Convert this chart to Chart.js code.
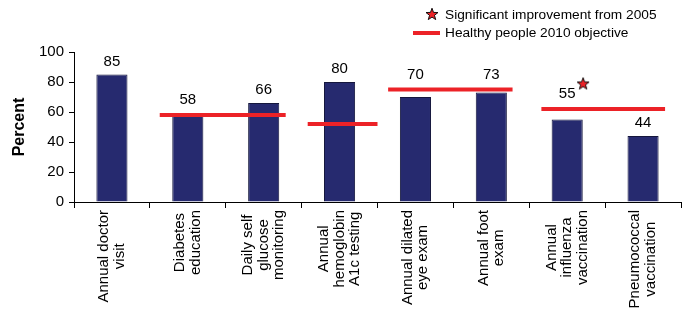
<!DOCTYPE html>
<html lang="en">
<head>
  <meta charset="UTF-8">
  <title>Diabetes care</title>
  <script src="https://cdn.jsdelivr.net/npm/chart.js"></script>
  <style>
    body { margin: 0; background: #fff; }
    #wrap { width: 686px; height: 312px; }
  </style>
</head>
<body>
  <div id="wrap"><canvas id="careChart"></canvas></div>

  <script>
    const categories = [
      ['Annual doctor', 'visit'],
      ['Diabetes', 'education'],
      ['Daily self', 'glucose', 'monitoring'],
      ['Annual', 'hemoglobin', 'A1c testing'],
      ['Annual dilated', 'eye exam'],
      ['Annual foot', 'exam'],
      ['Annual', 'influenza', 'vaccination'],
      ['Pneumococcal', 'vaccination']
    ];
    const percents = [85, 58, 66, 80, 70, 73, 55, 44];
    const yTicks = [0, 20, 40, 60, 80, 100];

    // Healthy people 2010 objectives, x in category-index units
    const objectiveFrom = [0.63, 2.58, 3.64, 5.66];
    const objectiveTo = [2.29, 3.5, 5.28, 7.29];
    const objectiveValue = [58, 52, 75, 62];

    // significant improvement marker
    const starX = [6.21];
    const starY = [79];

    const legendLabels = ['Significant improvement from 2005', 'Healthy people 2010 objective'];

    const navy = '#262a6f';
    const red = '#ec2227';
    const font = 'Arial, "Liberation Sans", sans-serif';

    function starPath(ctx, cx, cy, outer, inner) {
      ctx.beginPath();
      for (let i = 0; i < 10; i++) {
        const r = i % 2 ? inner : outer;
        const a = -Math.PI / 2 + i * Math.PI / 5;
        ctx.lineTo(cx + r * Math.cos(a), cy + r * Math.sin(a));
      }
      ctx.closePath();
    }

    const starImg = document.createElement('canvas');
    starImg.width = 14; starImg.height = 14;
    (function () {
      const c = starImg.getContext('2d');
      starPath(c, 7, 7.5, 6.3, 2.6);
      c.fillStyle = red;
      c.fill();
      c.strokeStyle = '#000';
      c.lineWidth = 0.9;
      c.stroke();
    })();

    const datasets = [{
      type: 'bar',
      data: percents,
      backgroundColor: navy,
      borderColor: '#15173d',
      borderWidth: 1,
      categoryPercentage: 1,
      barPercentage: 0.41,
      grouped: false,
      order: 2
    }];

    objectiveValue.forEach((v, i) => {
      datasets.push({
        type: 'line',
        xAxisID: 'xObj',
        data: [{ x: objectiveFrom[i], y: v }, { x: objectiveTo[i], y: v }],
        borderColor: red,
        borderWidth: 4,
        pointRadius: 0,
        fill: false,
        order: 0
      });
    });

    datasets.push({
      type: 'line',
      xAxisID: 'xObj',
      data: starX.map((x, i) => ({ x: x, y: starY[i] })),
      showLine: false,
      pointStyle: starImg,
      order: 0
    });

    // value labels: lifted over an objective line when it would cut through them
    const valueLabels = {
      id: 'valueLabels',
      afterDatasetsDraw(chart) {
        const ctx = chart.ctx;
        const y = chart.scales.y;
        const meta = chart.getDatasetMeta(0);
        ctx.save();
        ctx.font = '15px ' + font;
        ctx.fillStyle = '#000';
        ctx.textAlign = 'center';
        ctx.textBaseline = 'middle';
        meta.data.forEach((bar, i) => {
          let top = bar.y;
          objectiveValue.forEach((v, k) => {
            if (i >= objectiveFrom[k] && i <= objectiveTo[k]) {
              const ly = y.getPixelForValue(v);
              if (ly <= top + 2 && ly > top - 24) top = ly - 2;
            }
          });
          ctx.fillText(percents[i], bar.x, top - 13);
        });
        ctx.restore();
      }
    };

    // category labels: rotated, lines centred on each other
    const categoryLabels = {
      id: 'categoryLabels',
      afterDraw(chart) {
        const ctx = chart.ctx;
        const x = chart.scales.x;
        const top = chart.chartArea.bottom + 8;
        const lineGap = 15.5;
        ctx.save();
        ctx.font = '15px ' + font;
        ctx.fillStyle = '#000';
        ctx.textAlign = 'center';
        ctx.textBaseline = 'middle';
        categories.forEach((lines, i) => {
          const cx = x.getPixelForTick(i);
          const longest = Math.max(...lines.map(t => ctx.measureText(t).width));
          const cy = top + longest / 2;
          lines.forEach((t, j) => {
            const lx = cx + (j - (lines.length - 1) / 2) * lineGap;
            ctx.save();
            ctx.translate(lx, cy);
            ctx.rotate(-Math.PI / 2);
            ctx.fillText(t, 0, 0);
            ctx.restore();
          });
        });
        ctx.restore();
      }
    };

    const legendBox = {
      id: 'legendBox',
      afterDraw(chart) {
        const ctx = chart.ctx;
        ctx.save();
        ctx.font = '13.7px ' + font;
        ctx.fillStyle = '#000';
        ctx.textBaseline = 'middle';
        ctx.drawImage(starImg, 425, 7);
        ctx.fillText(legendLabels[0], 445, 15);
        ctx.fillStyle = red;
        ctx.fillRect(413, 31, 27, 4);
        ctx.fillStyle = '#000';
        ctx.fillText(legendLabels[1], 445, 33);
        ctx.restore();
      }
    };

    new Chart(careChart, {
      type: 'bar',
      data: { labels: categories, datasets: datasets },
      options: {
        responsive: true,
        maintainAspectRatio: false,
        animation: false,
        layout: { padding: { top: 52, right: 4, left: 10, bottom: 0 } },
        plugins: { legend: { display: false }, tooltip: { enabled: false } },
        scales: {
          x: {
            type: 'category',
            offset: true,
            border: { color: '#000', width: 1 },
            grid: { offset: true, drawOnChartArea: false, color: '#000', tickLength: 6 },
            ticks: { display: false },
            afterFit(scale) { scale.height = 110; }
          },
          xObj: {
            type: 'linear',
            display: false,
            offset: false,
            min: -0.5,
            max: 7.5
          },
          y: {
            min: 0,
            max: 100,
            border: { color: '#000', width: 1 },
            grid: { drawOnChartArea: false, color: '#000', tickLength: 5 },
            afterBuildTicks(scale) { scale.ticks = yTicks.map(v => ({ value: v })); },
            ticks: {
              color: '#000',
              font: { size: 15, family: font },
              padding: 5
            },
            title: {
              display: true,
              text: 'Percent',
              color: '#000',
              font: { size: 16, weight: 'bold', family: font },
              padding: 0
            },
            afterFit(scale) { scale.width = 64; }
          }
        }
      },
      plugins: [valueLabels, categoryLabels, legendBox]
    });
  </script>
</body>
</html>
